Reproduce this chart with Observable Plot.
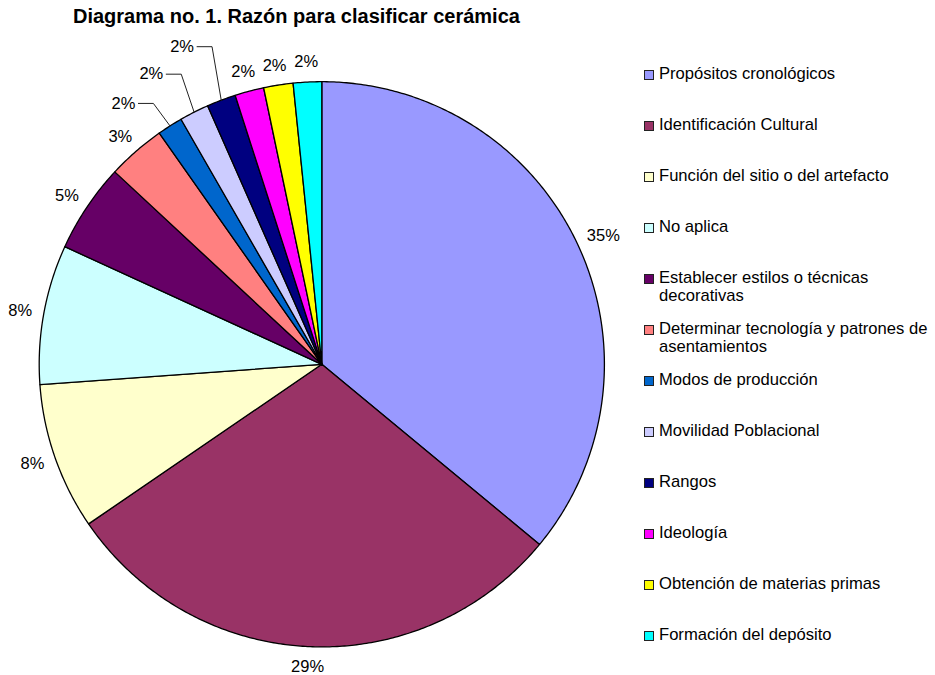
<!DOCTYPE html>
<html><head><meta charset="utf-8">
<script src="https://cdn.jsdelivr.net/npm/d3@7"></script>
<script src="https://cdn.jsdelivr.net/npm/@observablehq/plot@0.6"></script>
<style>
body{margin:0;background:#fff;font-family:"Liberation Sans",Arial,sans-serif;}
#wrap{position:relative;width:935px;height:675px;overflow:hidden;background:#fff;}
#head{position:relative;height:30px;}
#title{position:absolute;left:73px;top:6.4px;font-weight:bold;font-size:20px;line-height:20px;white-space:nowrap;color:#000;}
#legend{position:absolute;left:644px;top:0;width:291px;}
.row{position:absolute;left:0;display:flex;align-items:flex-start;}
.sw{width:10px;height:10px;box-sizing:border-box;border:1px solid #222;margin-top:4.75px;margin-right:5px;flex:none;}
.lt{font-size:16.6px;line-height:18px;width:276px;color:#000;}
</style></head><body>
<div id="wrap"><div id="head"><div id="title"></div></div><div id="chart"></div><div id="legend"></div></div>
<script>
const titleText = "Diagrama no. 1. Razón para clasificar cerámica";
const categories = [
  "Propósitos cronológicos",
  "Identificación Cultural",
  "Función del sitio o del artefacto",
  "No aplica",
  "Establecer estilos o técnicas decorativas",
  "Determinar tecnología y patrones de asentamientos",
  "Modos de producción",
  "Movilidad Poblacional",
  "Rangos",
  "Ideología",
  "Obtención de materias primas",
  "Formación del depósito"
];
const values = [36.0, 29.45, 8.4, 7.98, 5.09, 3.33, 1.45, 1.68, 1.66, 1.66, 1.68, 1.62];
const pctLabels = ["35%", "29%", "8%", "8%", "5%", "3%", "2%", "2%", "2%", "2%", "2%", "2%"];
const colors = ["#9999FF", "#993366", "#FFFFCC", "#CCFFFF", "#660066", "#FF8080",
                "#0066CC", "#CCCCFF", "#000080", "#FF00FF", "#FFFF00", "#00FFFF"];

document.getElementById("title").textContent = titleText;

const data = categories.map((name, i) => ({name, value: values[i], label: pctLabels[i]}));

// layout (pixels inside the SVG)
const R = 282.6, CX = 321.3, CY = 333.8;
const FONT = "'Liberation Sans', Arial, sans-serif";
const FS = 16.5;

const arcs = d3.pie().sort(null).value(d => d.value)(data);

const polys = [];
arcs.forEach(p => {
  const name = p.data.name;
  const n = Math.max(2, Math.ceil((p.endAngle - p.startAngle) / (Math.PI / 360)));
  polys.push({name, x: 0, y: 0});
  for (let k = 0; k <= n; k++) {
    const a = p.startAngle + (p.endAngle - p.startAngle) * k / n;
    polys.push({name, x: Math.sin(a), y: Math.cos(a)});
  }
  polys.push({name, x: 0, y: 0});
});

const ctx = document.createElement("canvas").getContext("2d");
ctx.font = `${FS}px ${FONT}`;
const G = 12, H = 16;
const leaderIdx = [6, 7, 8];
const midLabels = [], endLabels = [], leaders = [];
arcs.forEach((p, i) => {
  const a = (p.startAngle + p.endAngle) / 2;
  const ux = Math.sin(a), uy = -Math.cos(a); // pixel direction (y down)
  const j = leaderIdx.indexOf(i);
  if (j >= 0) {
    const rx = R * ux, ry = R * uy;
    const ex = rx - (16.6 - 3.7 * j), ey = ry - (22.5 + 15.5 * j);
    const hx = ex - 15;
    const id = p.data.name;
    [[rx, ry], [ex, ey], [hx, ey]].forEach(([px, py]) => leaders.push({id, x: px / R, y: -py / R}));
    endLabels.push({label: p.data.label, x: (hx - 3) / R, y: -ey / R});
  } else {
    const w = ctx.measureText(p.data.label).width;
    const px = (R + G) * ux + (w / 2) * ux;
    const py = (R + G) * uy + (H / 2) * uy;
    midLabels.push({label: p.data.label, x: px / R, y: -py / R});
  }
});

const chart = Plot.plot({
  width: 935,
  height: 645,
  margin: 0,
  x: {domain: [-1, 1], range: [CX - R, CX + R], axis: null},
  y: {domain: [-1, 1], range: [CY + R, CY - R], axis: null},
  color: {domain: categories, range: colors},
  style: {fontFamily: FONT, background: "white", overflow: "visible"},
  marks: [
    Plot.line(polys, {x: "x", y: "y", z: "name", fill: "name", stroke: "#000", strokeWidth: 1.3, strokeLinejoin: "round", curve: "linear"}),
    Plot.line(leaders, {x: "x", y: "y", z: "id", stroke: "#222", strokeWidth: 1, curve: "linear"}),
    Plot.text(midLabels, {x: "x", y: "y", text: "label", fontSize: FS, fill: "#000", textAnchor: "middle", lineAnchor: "middle"}),
    Plot.text(endLabels, {x: "x", y: "y", text: "label", fontSize: FS, fill: "#000", textAnchor: "end", lineAnchor: "middle"})
  ]
});
document.getElementById("chart").appendChild(chart);

// legend
const legend = document.getElementById("legend");
categories.forEach((name, i) => {
  const row = document.createElement("div");
  row.className = "row";
  row.style.top = (65.25 + 51 * i) + "px";
  const sw = document.createElement("div");
  sw.className = "sw";
  sw.style.background = colors[i];
  const t = document.createElement("div");
  t.className = "lt";
  t.textContent = name;
  row.appendChild(sw);
  row.appendChild(t);
  legend.appendChild(row);
});
</script>
</body></html>
